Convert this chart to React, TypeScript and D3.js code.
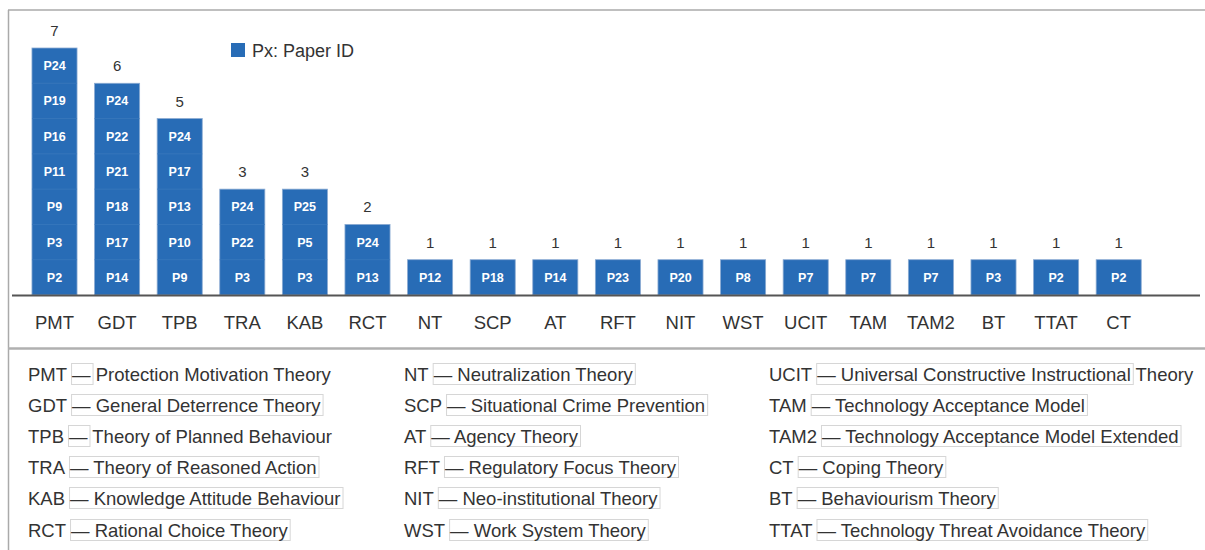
import React, { useEffect, useRef } from "react";
import * as d3 from "d3";

const categories = ["PMT","GDT","TPB","TRA","KAB","RCT","NT","SCP","AT","RFT","NIT","WST","UCIT","TAM","TAM2","BT","TTAT","CT"];
const papers: string[][] = [
  ["P2","P3","P9","P11","P16","P19","P24"],
  ["P14","P17","P18","P21","P22","P24"],
  ["P9","P10","P13","P17","P24"],
  ["P3","P22","P24"],
  ["P3","P5","P25"],
  ["P13","P24"],
  ["P12"],["P18"],["P14"],["P23"],["P20"],["P8"],["P7"],["P7"],["P7"],["P3"],["P2"],["P2"],
];
const legendLabel = "Px: Paper ID";
const col1 = [
  ["PMT", "—", " Protection Motivation Theory"],
  ["GDT", "— General Deterrence Theory", ""],
  ["TPB", "—", " Theory of Planned Behaviour"],
  ["TRA", "— Theory of Reasoned Action", ""],
  ["KAB", "— Knowledge Attitude Behaviour", ""],
  ["RCT", "— Rational Choice Theory", ""],
];
const col2 = [
  ["NT", "— Neutralization Theory", ""],
  ["SCP", "— Situational Crime Prevention", ""],
  ["AT", "— Agency Theory", ""],
  ["RFT", "— Regulatory Focus Theory", ""],
  ["NIT", "— Neo-institutional Theory", ""],
  ["WST", "— Work System Theory", ""],
];
const col3 = [
  ["UCIT", "— Universal Constructive Instructional", " Theory"],
  ["TAM", "— Technology Acceptance Model", ""],
  ["TAM2", "— Technology Acceptance Model Extended", ""],
  ["CT", "— Coping Theory", ""],
  ["BT", "— Behaviourism Theory", ""],
  ["TTAT", "— Technology Threat Avoidance Theory", ""],
];

const FONT = "'Liberation Sans', Arial, sans-serif";
const BLUE = "#286cb6";
const TXT = "#333";
const GF = 18.5;

export default function App() {
  const ref = useRef<SVGSVGElement>(null);
  useEffect(() => {
    const svg = d3.select(ref.current);
    svg.selectAll("*").remove();
    svg.attr("font-family", FONT);

    // frame
    svg.append("line").attr("x1", 8.5).attr("x2", 8.5).attr("y1", 10).attr("y2", 550).attr("stroke", "#aaa").attr("stroke-width", 1.5);
    svg.append("line").attr("x1", 8).attr("x2", 1205).attr("y1", 10).attr("y2", 10).attr("stroke", "#aaa").attr("stroke-width", 1.5);
    svg.append("line").attr("x1", 8).attr("x2", 1205).attr("y1", 348.5).attr("y2", 348.5).attr("stroke", "#b0b0b0").attr("stroke-width", 2.5);

    const x = d3.scaleBand<string>().domain(categories).range([23.2, 1150]).paddingInner(0.28).paddingOuter(0.14);
    const y = d3.scaleLinear().domain([0, 7]).range([295, 48]);
    const unit = y(0) - y(1);

    const g = svg.append("g");
    categories.forEach((c, i) => {
      const list = papers[i];
      const x0 = x(c)!;
      const bw = x.bandwidth();
      g.append("rect").attr("x", x0).attr("y", y(list.length)).attr("width", bw).attr("height", y(0) - y(list.length))
        .attr("fill", BLUE).attr("stroke", "#8aaad2").attr("stroke-width", 0.8);
      list.forEach((p, j) => {
        if (j > 0) {
          g.append("line").attr("x1", x0).attr("x2", x0 + bw).attr("y1", y(j)).attr("y2", y(j))
            .attr("stroke", "#3a78bd").attr("stroke-width", 0.8);
        }
        g.append("text").attr("x", x0 + bw / 2).attr("y", y(j + 0.5) + 4.5).attr("text-anchor", "middle")
          .attr("fill", "#fff").attr("font-weight", "bold").attr("font-size", 12.5).text(p);
      });
      g.append("text").attr("x", x0 + bw / 2).attr("y", y(list.length) - 12).attr("text-anchor", "middle")
        .attr("fill", TXT).attr("font-size", 15).text(String(list.length));
      g.append("text").attr("x", x0 + bw / 2).attr("y", 328.5).attr("text-anchor", "middle")
        .attr("fill", TXT).attr("font-size", 18.5).text(c);
    });
    svg.append("line").attr("x1", 12).attr("x2", 1200).attr("y1", 295.5).attr("y2", 295.5).attr("stroke", "#555").attr("stroke-width", 2);

    // legend
    svg.append("rect").attr("x", 231).attr("y", 43).attr("width", 14).attr("height", 14).attr("fill", BLUE);
    svg.append("text").attr("x", 252).attr("y", 57).attr("fill", TXT).attr("font-size", 18).text(legendLabel);

    // glossary
    const boxG = svg.append("g");
    const textG = svg.append("g");
    const rowsY = [374, 405, 436, 467, 498, 530];
    const cols: [string[][], number][] = [[col1, 28], [col2, 404], [col3, 769]];
    cols.forEach(([rows, cx]) => {
      rows.forEach((r, i) => {
        const cy = rowsY[i];
        const t1 = textG.append("text").attr("x", cx).attr("y", cy + 6.5).attr("font-size", GF).attr("fill", TXT).text(r[0]);
        const w1 = (t1.node() as SVGTextElement).getComputedTextLength();
        const bx = cx + w1 + 4;
        const t2 = textG.append("text").attr("x", bx + 1).attr("y", cy + 6.5).attr("font-size", GF).attr("fill", TXT).text(r[1]);
        const w2 = (t2.node() as SVGTextElement).getComputedTextLength();
        boxG.append("rect").attr("x", bx + 0.5).attr("y", cy - 10.5).attr("width", w2 + 3).attr("height", 21)
          .attr("fill", "none").attr("stroke", "#d6d6d6").attr("stroke-width", 1);
        if (r[2]) {
          textG.append("text").attr("x", bx + 1 + w2).attr("y", cy + 6.5).attr("font-size", GF).attr("fill", TXT)
            .style("white-space", "pre").text(r[2]);
        }
      });
    });
  }, []);
  return (
    <svg ref={ref} width={1205} height={550} style={{ position: "absolute", left: 0, top: 0, background: "#fff" }} />
  );
}
